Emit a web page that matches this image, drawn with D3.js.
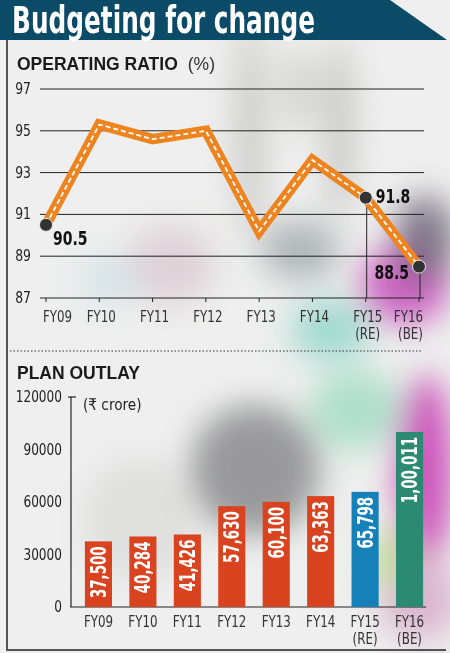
<!DOCTYPE html>
<html>
<head>
<meta charset="utf-8">
<script src="https://cdn.jsdelivr.net/npm/d3@7"></script>
<style>
	body { margin: 0; background: #fff; }
	svg { display: block; }
	.narrow { font-family: "Liberation Sans Narrow", "DejaVu Sans Condensed", "Arial Narrow", sans-serif; }
	.bold { font-family: "Liberation Sans", "DejaVu Sans", sans-serif; font-weight: bold; }
</style>
</head>
<body>
<svg class="chart" width="450" height="653"></svg>
<script>
var years = ["FY09", "FY10", "FY11", "FY12", "FY13", "FY14", "FY15", "FY16"];
var yearNotes = ["", "", "", "", "", "", "(RE)", "(BE)"];
var ratio = [90.5, 95.3, 94.6, 95.0, 90.2, 93.6, 91.8, 88.5];
var ratioTicks = [87, 89, 91, 93, 95, 97];
var labelled = { "FY09": "90.5", "FY15": "91.8", "FY16": "88.5" };
var outlay = [37500, 40284, 41426, 57630, 60100, 63363, 65798, 100011];
var outlayLabels = ["37,500", "40,284", "41,426", "57,630", "60,100", "63,363", "65,798", "1,00,011"];
var outlayTicks = [0, 30000, 60000, 90000, 120000];

var svg = d3.select(".chart"),
	width = 450,
	height = 653;

// text squeezed sideways, the installed condensed face is still too wide
function narrowText(g, x, y, sx, rot) {
	return g.append("text").attr("class", "narrow")
		.attr("transform", "translate(" + x + "," + y + ")" + (rot ? " rotate(" + rot + ")" : "") + " scale(" + sx + ",1)");
}

// blurred backdrop, a rough stand-in for the photo
var defs = svg.append("defs");
defs.append("filter").attr("id", "blur")
	.attr("x", "-50%").attr("y", "-50%").attr("width", "200%").attr("height", "200%")
	.append("feGaussianBlur").attr("stdDeviation", 16);

svg.append("rect").attr("width", width).attr("height", height).attr("fill", "#eeefee");
var bg = svg.append("g").attr("filter", "url(#blur)");
var blobs = [
	[250, 130, 14, 110, "#c2c2bf"], [340, 130, 12, 90, "#b8b8b6"], [300, 90, 20, 40, "#d0d0cd"],
	[405, 285, 45, 40, "#c84cbc"], [425, 240, 30, 45, "#6f6478"],
	[300, 250, 40, 30, "#a6adae"], [170, 265, 45, 40, "#dcccd4"], [110, 280, 30, 20, "#cfe0e6"],
	[330, 330, 40, 30, "#93d6ca"], [255, 470, 65, 65, "#8a8a8c"],
	[355, 410, 45, 40, "#a3dcc6"], [425, 470, 28, 95, "#c63ab2"],
	[140, 520, 55, 60, "#dcdcda"], [420, 600, 40, 40, "#d7acc9"], [390, 560, 20, 30, "#b9d98a"]
];
blobs.forEach(function (b) {
	bg.append("ellipse").attr("cx", b[0]).attr("cy", b[1])
		.attr("rx", b[2]).attr("ry", b[3]).attr("fill", b[4]).attr("opacity", 0.85);
});

// title band
svg.append("path").attr("d", "M0,0 L390,0 L447,40 L0,40 Z").attr("fill", "#0b4b68");
svg.append("text").attr("class", "narrow")
	.attr("x", 12).attr("y", 33)
	.attr("font-size", 37).attr("font-weight", "bold").attr("fill", "#fff")
	.attr("textLength", 303).attr("lengthAdjust", "spacingAndGlyphs")
	.text("Budgeting for change");

// frame
svg.append("path").attr("d", "M7,40 L7,650 L446,650")
	.attr("fill", "none").attr("stroke", "#555").attr("stroke-width", 2);

// ---------- operating ratio ----------
svg.append("text").attr("class", "bold").attr("x", 17).attr("y", 70)
	.attr("font-size", 17.5).attr("fill", "#1a1a1a")
	.text("OPERATING RATIO")
	.append("tspan").attr("font-weight", "normal").attr("dx", 10).attr("fill", "#333").text("(%)");

var x1 = d3.scalePoint().domain(years).range([46, 419]);
var y1 = d3.scaleLinear().domain([87, 97]).range([298, 89]);

var grid = svg.append("g");
ratioTicks.forEach(function (t) {
	grid.append("line")
		.attr("x1", 40).attr("x2", 424)
		.attr("y1", y1(t)).attr("y2", y1(t))
		.attr("stroke", "#222").attr("stroke-width", 1);
	narrowText(grid, 31, y1(t) + 5, 0.92)
		.attr("text-anchor", "end").attr("font-size", 15).attr("fill", "#222")
		.text(t);
});

years.forEach(function (yr, i) {
	grid.append("line")
		.attr("x1", x1(yr)).attr("x2", x1(yr))
		.attr("y1", y1(87)).attr("y2", y1(87) + 4)
		.attr("stroke", "#222");
	var lx = i === 0 ? x1(yr) - 3 : i === years.length - 1 ? x1(yr) + 4 : x1(yr) + 2;
	var anchor = i === 0 ? "start" : i === years.length - 1 ? "end" : "middle";
	narrowText(grid, lx, 322, 0.88)
		.attr("text-anchor", anchor).attr("font-size", 15).attr("fill", "#333")
		.text(yr);
	if (yearNotes[i]) {
		narrowText(grid, lx, 339, 0.88)
			.attr("text-anchor", anchor).attr("font-size", 15).attr("fill", "#333")
			.text(yearNotes[i]);
	}
});

// drop lines under the last two points
["FY15", "FY16"].forEach(function (yr) {
	var i = years.indexOf(yr);
	grid.append("line")
		.attr("x1", x1(yr) + 1).attr("x2", x1(yr) + 1)
		.attr("y1", y1(ratio[i])).attr("y2", y1(87))
		.attr("stroke", "#222");
});

var line = d3.line()
	.x(function (d, i) { return x1(years[i]); })
	.y(function (d) { return y1(d); });

svg.append("path").datum(ratio).attr("d", line)
	.attr("fill", "none").attr("stroke", "#ee8420").attr("stroke-width", 10.5)
	.attr("stroke-linejoin", "miter");
svg.append("path").datum(ratio).attr("d", line)
	.attr("fill", "none").attr("stroke", "#fff").attr("stroke-width", 1.8)
	.attr("stroke-dasharray", "5,3");

var pts = years.map(function (yr, i) { return { yr: yr, v: ratio[i] }; })
	.filter(function (d) { return labelled[d.yr]; });

svg.append("g").selectAll("circle").data(pts).enter().append("circle")
	.attr("cx", function (d) { return x1(d.yr); })
	.attr("cy", function (d) { return y1(d.v); })
	.attr("r", 6.5)
	.attr("fill", "#333").attr("stroke", "#e8e8e8").attr("stroke-width", 1);

var lblOffset = { "FY09": [7, 20, "start"], "FY15": [10, 5, "start"], "FY16": [-10, 12, "end"] };
var vl = svg.append("g");
pts.forEach(function (d) {
	var o = lblOffset[d.yr];
	narrowText(vl, x1(d.yr) + o[0], y1(d.v) + o[1], 0.82)
		.attr("text-anchor", o[2])
		.attr("font-size", 19).attr("font-weight", "bold").attr("fill", "#111")
		.text(labelled[d.yr]);
});

// dotted divider
svg.append("line").attr("x1", 10).attr("x2", 421).attr("y1", 351).attr("y2", 351)
	.attr("stroke", "#333").attr("stroke-width", 1.2).attr("stroke-dasharray", "1.5,2");

// ---------- plan outlay ----------
svg.append("text").attr("class", "bold").attr("x", 17).attr("y", 379)
	.attr("font-size", 17.5).attr("fill", "#1a1a1a")
	.text("PLAN OUTLAY");

var x2 = d3.scaleBand().domain(years).range([76, 432]).paddingInner(0.39).paddingOuter(0.2);
var y2 = d3.scaleLinear().domain([0, 120000]).range([607, 397]);
var barColor = function (i) { return i === 6 ? "#1581b8" : i === 7 ? "#2c8a72" : "#d9431f"; };

var ax = svg.append("g");
ax.append("line").attr("x1", 71).attr("x2", 71).attr("y1", y2(120000)).attr("y2", y2(0))
	.attr("stroke", "#222").attr("stroke-width", 1.2);
ax.append("line").attr("x1", 68).attr("x2", 76).attr("y1", y2(120000)).attr("y2", y2(120000))
	.attr("stroke", "#222").attr("stroke-width", 1.2);
ax.append("line").attr("x1", 70).attr("x2", 426).attr("y1", y2(0)).attr("y2", y2(0))
	.attr("stroke", "#222").attr("stroke-width", 1.2);
outlayTicks.forEach(function (t) {
	narrowText(ax, 62, y2(t) + 5, 0.9)
		.attr("text-anchor", "end").attr("font-size", 15).attr("fill", "#222")
		.text(t);
});

narrowText(svg, 83, 410, 0.95)
	.attr("font-size", 16).attr("fill", "#222").text("(₹ crore)");

svg.append("g").selectAll("rect").data(outlay).enter().append("rect")
	.attr("x", function (d, i) { return x2(years[i]); })
	.attr("y", function (d) { return y2(d); })
	.attr("width", x2.bandwidth())
	.attr("height", function (d) { return y2(0) - y2(d); })
	.attr("fill", function (d, i) { return barColor(i); });

var bl = svg.append("g");
outlay.forEach(function (d, i) {
	narrowText(bl, x2(years[i]) + x2.bandwidth() / 2 + 7.5, y2(d) + 5, 0.71, -90)
		.attr("text-anchor", "end")
		.attr("font-size", 21).attr("font-weight", "bold").attr("fill", "#fff")
		.text(outlayLabels[i]);
});

years.forEach(function (yr, i) {
	var cx = x2(yr) + x2.bandwidth() / 2;
	narrowText(svg, cx, 627, 0.88)
		.attr("text-anchor", "middle").attr("font-size", 15).attr("fill", "#333")
		.text(yr);
	if (yearNotes[i]) {
		narrowText(svg, cx, 644, 0.88)
			.attr("text-anchor", "middle").attr("font-size", 15).attr("fill", "#333")
			.text(yearNotes[i]);
	}
});
</script>
</body>
</html>
